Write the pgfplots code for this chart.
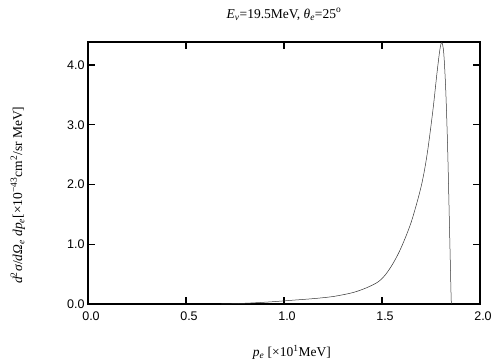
\documentclass[border=0pt]{standalone}
\usepackage{fontspec}
\setmainfont{Liberation Serif}
\setsansfont{Liberation Sans}
\usepackage{pgfplots}
\pgfplotsset{compat=1.18}
\begin{document}
\begin{tikzpicture}
\useasboundingbox (-88pt,-56pt) rectangle (416pt,304pt);
\begin{axis}[
  at={(0pt,0pt)}, anchor=south west,
  scale only axis, width=392pt, height=262pt,
  xmin=0, xmax=2, ymin=0, ymax=4.385,
  xtick={0,0.5,1,1.5,2}, ytick={0,1,2,3,4},
  tick align=inside, tickpos=both,
  major tick length=7pt,
  xtick style={draw=black, line width=1.4pt},
  ytick style={draw=black, line width=1.4pt},
  axis line style={line width=1.2pt},
  ticklabel style={font=\sffamily\fontsize{12.5}{14}\selectfont},
  xticklabel style={yshift=-4pt, xshift=3pt},
  xticklabel={\pgfmathprintnumber[fixed,fixed zerofill,precision=1]{\tick}},
  yticklabel={\pgfmathprintnumber[fixed,fixed zerofill,precision=1]{\tick}},
  /pgf/number format/assume math mode=true,
  title={\fontsize{13.5}{15}\selectfont\textit{E}\textsubscript{\textit{ν}}=19.5MeV, \textit{θ}\textsubscript{\textit{e}}=25\textsuperscript{o}},
  title style={at={(axis description cs:0.5,1)}, anchor=south, yshift=12pt},
  xlabel={\fontsize{13.5}{15}\selectfont\textit{p}\textsubscript{\textit{e}} [×10\textsuperscript{1}MeV]},
  xlabel style={at={(axis description cs:0.52,0)}, anchor=center, yshift=-48pt},
  ylabel={\fontsize{13.5}{15}\selectfont\textit{d}\textsuperscript{2}\textit{σ}/\textit{dΩ}\textsubscript{\textit{e}} \textit{dp}\textsubscript{\textit{e}}[×10\textsuperscript{−43}cm\textsuperscript{2}/sr MeV]},
  ylabel style={at={(axis description cs:-0.179,0.415)}, anchor=center},
]
\addplot[black!80, line width=0.5pt, smooth, tension=0.5] coordinates {
(0.68,0) (0.75,0.006) (0.85,0.02) (0.95,0.04) (1.05,0.065) (1.15,0.09) (1.25,0.125) (1.35,0.19) (1.42,0.27) (1.48,0.37) (1.52,0.5) (1.56,0.7) (1.6,0.96) (1.65,1.38) (1.7,1.97) (1.73,2.5) (1.76,3.25) (1.78,3.85) (1.795,4.25) (1.805,4.38) (1.815,4.2) (1.825,3.6) (1.835,2.6) (1.845,1.2) (1.852,0.2) (1.854,0)
};
\end{axis}
\end{tikzpicture}
\end{document}
